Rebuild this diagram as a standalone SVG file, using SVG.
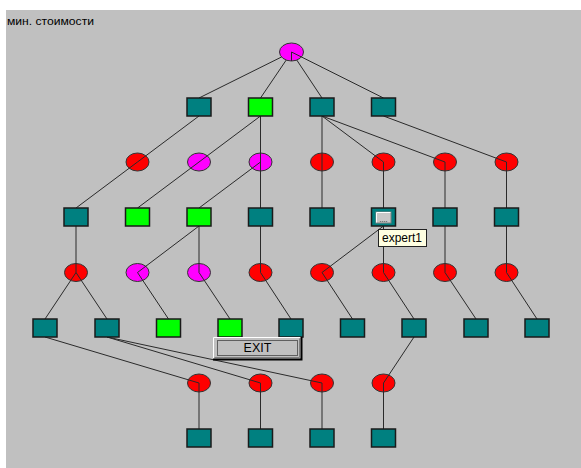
<svg xmlns="http://www.w3.org/2000/svg" width="581" height="468" viewBox="0 0 581 468">
<style>
.bg{fill:#c0c0c0}
.t{fill:#008080;stroke:#1a1a1a;stroke-width:1.5}
.g{fill:#00ff00;stroke:#1a1a1a;stroke-width:1.5}
.r{fill:#ff0000;stroke:#333;stroke-width:1}
.m{fill:#ff00ff;stroke:#333;stroke-width:1}
.e line,.e path{stroke:#2a2a2a;stroke-width:1;fill:none}
.lbl{font-family:"Liberation Sans",Arial,sans-serif;fill:#000}
</style>
<rect width="581" height="468" fill="#ffffff"/>
<rect class="bg" x="6" y="10" width="575" height="458"/>
<text class="lbl" x="7" y="25" font-size="10.5" textLength="87" lengthAdjust="spacingAndGlyphs" fill="#111">мин. стоимости</text>

<!-- ellipse nodes (connectors drawn over them) -->
<g id="root"><ellipse class="m" cx="291.5" cy="52" rx="12" ry="9"/></g>
<g id="e2a"><ellipse class="r" cx="137.5" cy="162" rx="11.5" ry="9"/></g>
<g id="e2b"><ellipse class="m" cx="199" cy="162" rx="11.5" ry="9"/></g>
<g id="e2c"><ellipse class="m" cx="260.5" cy="162" rx="11.5" ry="9"/></g>
<g id="e2d"><ellipse class="r" cx="322" cy="162" rx="11.5" ry="9"/></g>
<g id="e2e"><ellipse class="r" cx="383.5" cy="162" rx="11.5" ry="9"/></g>
<g id="e2f"><ellipse class="r" cx="445" cy="162" rx="11.5" ry="9"/></g>
<g id="e2g"><ellipse class="r" cx="506.5" cy="162" rx="11.5" ry="9"/></g>
<g id="e3a"><ellipse class="r" cx="76" cy="272.5" rx="11.5" ry="9"/></g>
<g id="e3b"><ellipse class="m" cx="137.5" cy="272.5" rx="11.5" ry="9"/></g>
<g id="e3c"><ellipse class="m" cx="199" cy="272.5" rx="11.5" ry="9"/></g>
<g id="e3d"><ellipse class="r" cx="260.5" cy="272.5" rx="11.5" ry="9"/></g>
<g id="e3e"><ellipse class="r" cx="322" cy="272.5" rx="11.5" ry="9"/></g>
<g id="e3f"><ellipse class="r" cx="383.5" cy="272.5" rx="11.5" ry="9"/></g>
<g id="e3g"><ellipse class="r" cx="445" cy="272.5" rx="11.5" ry="9"/></g>
<g id="e3h"><ellipse class="r" cx="506.5" cy="272.5" rx="11.5" ry="9"/></g>
<g id="e5a"><ellipse class="r" cx="199" cy="383" rx="11.5" ry="9"/></g>
<g id="e5b"><ellipse class="r" cx="260.5" cy="383" rx="11.5" ry="9"/></g>
<g id="e5c"><ellipse class="r" cx="322" cy="383" rx="11.5" ry="9"/></g>
<g id="e5d"><ellipse class="r" cx="383.5" cy="383" rx="11.5" ry="9"/></g>

<g id="connectors" class="e">
<path d="M291.5,52 V61 M291.5,52 L301.5,57"/>
<line x1="281.5" y1="57" x2="199" y2="98"/>
<line x1="286.2" y1="60.1" x2="260.5" y2="98"/>
<line x1="296.8" y1="60.1" x2="322" y2="98"/>
<line x1="301.5" y1="57" x2="383.5" y2="98"/>
<!-- row1 to row3 -->
<path d="M199,116 L137.5,162 L76,208"/>
<path d="M260.5,116 L199,162 L137.5,208"/>
<path d="M260.5,116 V208 M260.5,162 L199,208"/>
<path d="M322,116 V208"/>
<path d="M322,116 L383.5,162 V208"/>
<path d="M322,116 L445,162 V208"/>
<path d="M383.5,116 L506.5,162 V208"/>
<!-- row3 to row4 -->
<path d="M76,226 V272.5 L45,319 M76,272.5 L107,319"/>
<path d="M199,226 L137.5,272.5 L168.5,319"/>
<path d="M199,226 V272.5 L230,319"/>
<path d="M260.5,226 V272.5 L291,319"/>
<path d="M383.5,226 L322,272.5 L352.5,319"/>
<path d="M383.5,226 V272.5 L414,319"/>
<path d="M445,226 V272.5 L476,319"/>
<path d="M506.5,226 V272.5 L537,319"/>
<!-- row4 to row6 -->
<path d="M45,337 L199,383 V429"/>
<path d="M107,337 L260.5,383 V429"/>
<path d="M107,337 L322,383 V429"/>
<path d="M414,337 L383.5,383 V429"/>
</g>

<!-- box nodes -->
<g id="b1a"><rect class="t" x="187" y="98" width="24" height="18"/></g>
<g id="b1b"><rect class="g" x="248.5" y="98" width="24" height="18"/></g>
<g id="b1c"><rect class="t" x="310" y="98" width="24" height="18"/></g>
<g id="b1d"><rect class="t" x="371.5" y="98" width="24" height="18"/></g>

<g id="b3a"><rect class="t" x="64" y="208" width="24" height="18"/></g>
<g id="b3b"><rect class="g" x="125.5" y="208" width="24" height="18"/></g>
<g id="b3c"><rect class="g" x="187" y="208" width="24" height="18"/></g>
<g id="b3d"><rect class="t" x="248.5" y="208" width="24" height="18"/></g>
<g id="b3e"><rect class="t" x="310" y="208" width="24" height="18"/></g>
<g id="b3f"><rect class="t" x="371.5" y="208" width="24" height="18"/>
<rect x="376" y="212" width="15" height="11" fill="#c8c8c8" stroke="#808080" stroke-width="1"/>
<path d="M376.5,222.5 V212.5 H390.5" stroke="#ffffff" stroke-width="1" fill="none"/>
<text class="lbl" x="383.5" y="222" font-size="7" text-anchor="middle" fill="#555">....</text></g>
<g id="b3g"><rect class="t" x="433" y="208" width="24" height="18"/></g>
<g id="b3h"><rect class="t" x="494.5" y="208" width="24" height="18"/></g>

<g id="b4a"><rect class="t" x="33" y="319" width="24" height="18"/></g>
<g id="b4b"><rect class="t" x="95" y="319" width="24" height="18"/></g>
<g id="b4c"><rect class="g" x="156.5" y="319" width="24" height="18"/></g>
<g id="b4d"><rect class="g" x="218" y="319" width="24" height="18"/></g>
<g id="b4e"><rect class="t" x="279" y="319" width="24" height="18"/></g>
<g id="b4f"><rect class="t" x="340.5" y="319" width="24" height="18"/></g>
<g id="b4g"><rect class="t" x="402" y="319" width="24" height="18"/></g>
<g id="b4h"><rect class="t" x="464" y="319" width="24" height="18"/></g>
<g id="b4i"><rect class="t" x="525" y="319" width="24" height="18"/></g>

<g id="b6a"><rect class="t" x="187" y="429" width="24" height="18"/></g>
<g id="b6b"><rect class="t" x="248.5" y="429" width="24" height="18"/></g>
<g id="b6c"><rect class="t" x="310" y="429" width="24" height="18"/></g>
<g id="b6d"><rect class="t" x="371.5" y="429" width="24" height="18"/></g>

<!-- EXIT button -->
<g id="exit">
<rect x="213" y="337" width="89" height="23" fill="#c0c0c0"/>
<path d="M213.5,359.5 V337.5 H301.5" stroke="#ffffff" stroke-width="1" fill="none"/>
<path d="M213,359.5 H301.5 V337" stroke="#000" stroke-width="2" fill="none"/>
<path d="M214.5,357.5 H299.5 V338.5" stroke="#808080" stroke-width="1" fill="none"/>
<rect x="217.5" y="340.5" width="80" height="15" fill="none" stroke="#000" stroke-width="1" stroke-dasharray="1,1"/>
<text class="lbl" x="257.5" y="352" font-size="12.5" text-anchor="middle" fill="#333">EXIT</text>
</g>

<!-- tooltip -->
<g id="tooltip">
<rect x="378.5" y="229.5" width="48" height="17" fill="#ffffe1" stroke="#222" stroke-width="1"/>
<text class="lbl" x="382" y="242" font-size="12">expert1</text>
</g>
</svg>
